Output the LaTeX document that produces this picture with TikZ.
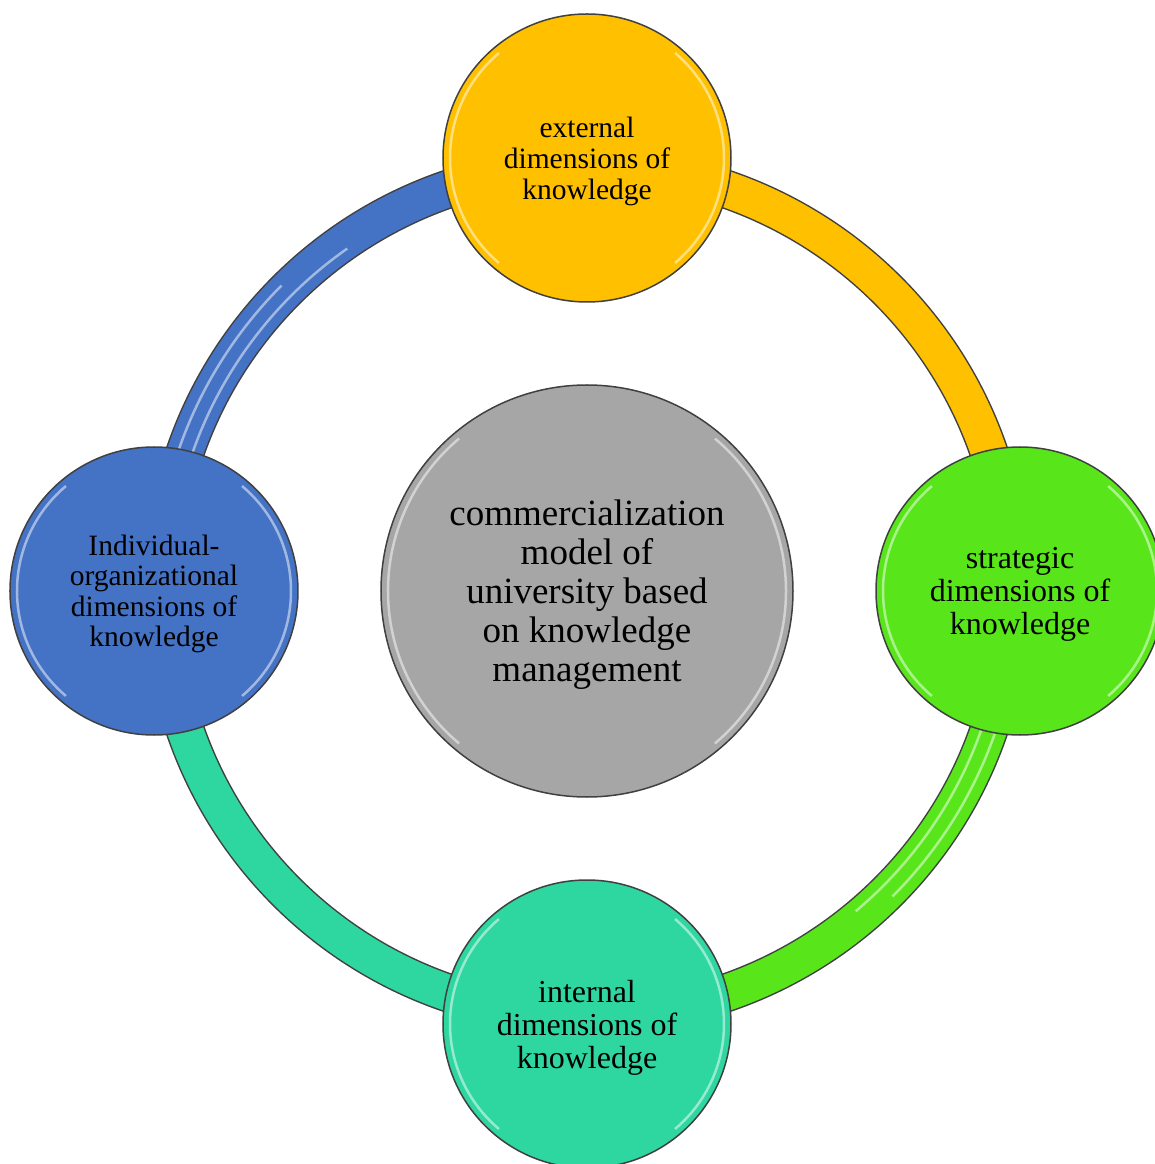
\documentclass[tikz,border=0pt]{standalone}
\usepackage{fontspec}
\setmainfont{Liberation Serif}
\usetikzlibrary{backgrounds}

\definecolor{extcol}{RGB}{255,192,0}
\definecolor{stratcol}{RGB}{88,230,27}
\definecolor{intcol}{RGB}{46,214,160}
\definecolor{indcol}{RGB}{68,114,196}
\definecolor{modelcol}{RGB}{166,166,166}
\definecolor{rimcol}{RGB}{64,64,64}

\begin{document}
\begin{tikzpicture}[x=1pt,y=1pt]

    \def\ringradius{425}
    \def\dimdist{433}
    \pgfmathsetmacro\glossin{\ringradius-7}
    \pgfmathsetmacro\glossout{\ringradius+7}

    % Styles
    \tikzstyle{dim}=[circle, draw=rimcol, line width=1.5pt, minimum size=288pt, inner sep=0pt, align=center, text=black, text depth=0pt]
    \tikzstyle{band}=[line width=1.5pt, draw=rimcol, double distance=36pt]
    \tikzstyle{gloss}=[white, line width=2.5pt, opacity=0.5]

    \useasboundingbox (-587,-573) rectangle (567,591);

    % model in the middle
    \node[dim, fill=modelcol, minimum size=412pt, font=\fontsize{37}{39}\selectfont] (model) at (0,0)
        {commercialization\\model of\\university based\\on knowledge\\management};

    % dimensions round the ring
    \node[dim, fill=extcol, font=\fontsize{29.5}{31}\selectfont] (external) at (0,\dimdist)
        {external\\dimensions of\\knowledge};
    \node[dim, fill=stratcol, font=\fontsize{32}{33}\selectfont] (strategic) at (\dimdist,0)
        {strategic\\dimensions of\\knowledge};
    \node[dim, fill=intcol, font=\fontsize{32}{33}\selectfont] (internal) at (0,-\dimdist)
        {internal\\dimensions of\\knowledge};
    \node[dim, fill=indcol, font=\fontsize{29.5}{30.5}\selectfont] (indorg) at (-\dimdist,0)
        {Individual-\\organizational\\dimensions of\\knowledge};

    % ring between the dimensions, a little inside their centres
    \begin{scope}[on background layer]
    \draw[band, double=extcol] ([yshift=-8pt]external.center) to[bend left=45] ([xshift=-8pt]strategic.center);
    \draw[band, double=stratcol] ([xshift=-8pt]strategic.center) to[bend left=45] ([yshift=8pt]internal.center);
    \draw[band, double=intcol] ([yshift=8pt]internal.center) to[bend left=45] ([xshift=8pt]indorg.center);
    \draw[band, double=indcol] ([xshift=8pt]indorg.center) to[bend left=45] ([yshift=-8pt]external.center);

    % shine on the blue and green parts of the ring
    \draw[gloss] (170:\glossin) arc[start angle=170, end angle=125, radius=\glossin];
    \draw[gloss] (170:\glossout) arc[start angle=170, end angle=135, radius=\glossout];
    \draw[gloss] (-12:\glossin) arc[start angle=-12, end angle=-50, radius=\glossin];
    \draw[gloss] (-12:\glossout) arc[start angle=-12, end angle=-45, radius=\glossout];
    \end{scope}

    % shine inside the rims
    \foreach \n in {external,strategic,internal,indorg} {
        \draw[gloss] ([shift={(130:137)}]\n.center) arc[start angle=130, end angle=230, radius=137];
        \draw[gloss] ([shift={(-50:137)}]\n.center) arc[start angle=-50, end angle=50, radius=137];
    }
    \draw[gloss] ([shift={(130:199)}]model.center) arc[start angle=130, end angle=230, radius=199];
    \draw[gloss] ([shift={(-50:199)}]model.center) arc[start angle=-50, end angle=50, radius=199];

\end{tikzpicture}
\end{document}
